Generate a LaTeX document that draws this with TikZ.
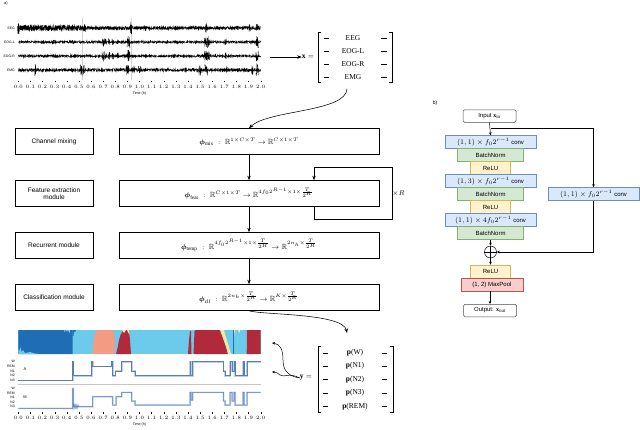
\documentclass[tikz,border=0pt]{standalone}
\usepackage{amsmath,amssymb,bm}
\usepackage{fontspec}
\setmainfont{Liberation Serif}
\setsansfont{Liberation Sans}
\usetikzlibrary{arrows.meta,calc}
\definecolor{cN3}{HTML}{1F6DB4}
\definecolor{cN2}{HTML}{6CCBEB}
\definecolor{cREM}{HTML}{F19C83}
\definecolor{cW}{HTML}{B02A3C}
\definecolor{cN1}{HTML}{F7E7A6}
\definecolor{convf}{HTML}{DAE8FC}\definecolor{convd}{HTML}{6C8EBF}
\definecolor{bnf}{HTML}{D5E8D4}\definecolor{bnd}{HTML}{82B366}
\definecolor{reluf}{HTML}{FFF2CC}\definecolor{relud}{HTML}{D6B656}
\definecolor{poolf}{HTML}{F8CECC}\definecolor{poold}{HTML}{B85450}
\definecolor{trc}{HTML}{5A7FB3}\definecolor{trl}{HTML}{BCD0EA}
\newcommand\mkburst[4]{%
 \pgfmathsetmacro\bxa{18.3+121.2*#2-#4}%
 \pgfmathsetmacro\bxb{18.3+121.2*#2+#4}%
 \draw[sig] plot[domain=\bxa:\bxb, samples=16] (\x,{#1+#3*rand});}
\begin{document}
\begin{tikzpicture}[x=1pt,y=-1pt,
 sig/.style={line width=0.3pt, black},
 arr/.style={-{Stealth[length=4.5pt,width=3.4pt]}, line width=0.55pt},
 sarr/.style={-{Stealth[length=3pt,width=2.6pt]}, line width=0.5pt},
 lbox/.style={draw, line width=0.6pt, minimum width=78pt, minimum height=26pt, inner sep=1pt, align=center, font=\sffamily\fontsize{6.5}{7.5}\selectfont},
 rbox/.style={draw, line width=0.6pt, minimum width=260pt, minimum height=26pt, font=\fontsize{7.5}{8.5}\selectfont},
 mtext/.style={font=\fontsize{7.5}{8}\selectfont, inner sep=0},
 tck/.style={font=\sffamily\fontsize{3.6}{4}\selectfont, inner sep=0},
 hl/.style={font=\sffamily\fontsize{3.4}{4}\selectfont, inner sep=0, anchor=east},
 blk/.style={minimum height=13pt, inner sep=0, line width=0.5pt, font=\fontsize{7}{8}\selectfont},
 conv/.style={blk, draw=convd, fill=convf, minimum width=91pt},
 bn/.style={blk, draw=bnd, fill=bnf, minimum width=66pt, font=\sffamily\fontsize{6}{7}\selectfont},
 relu/.style={blk, draw=relud, fill=reluf, minimum width=40pt, font=\sffamily\fontsize{6}{7}\selectfont},
 pool/.style={blk, draw=poold, fill=poolf, minimum width=62pt, font=\sffamily\fontsize{6}{7}\selectfont},
 io/.style={draw=black!70, rounded corners=1.5pt, line width=0.5pt, minimum width=53pt, minimum height=12.5pt, inner sep=0, font=\sffamily\fontsize{6}{7}\selectfont},
]
\useasboundingbox (0,0) rectangle (640,429);
% ---------- labels a) b)
\node[font=\sffamily\fontsize{4}{5}\selectfont, inner sep=0] (la) at (6,3) {a)};
\node[font=\sffamily\fontsize{5}{6}\selectfont, inner sep=0] (lb) at (435,103) {b)};
% ---------- EEG plot
\pgfmathsetseed{11}
\draw[gray!35, line width=0.3pt] (82.5,18) -- (82.5,80) (131.5,18) -- (131.5,80);
\draw[sig] plot[domain=18.3:85, samples=600] (\x,{28+3*rand});
\draw[sig] plot[domain=85:260.7, samples=1100] (\x,{28+1.6*rand});
\foreach \h/\a in {0.0/7,0.55/4,0.93/6,1.05/3,1.3/3,1.55/5,1.91/4,1.97/4}{\mkburst{28}{\h}{\a}{0.8}}
\foreach \yy in {42,56}{
 \draw[sig] plot[domain=18.3:260.7, samples=1300] (\x,{\yy+1.2*rand});
 \foreach \h/\a/\w in {0.70/5/1.3,0.72/4/1,0.75/4/0.8,0.78/3.5/0.8,0.82/3/0.8,0.91/6/1.5,1.55/6/2,1.57/5/1.2,1.71/3.5/0.8,1.97/6/1.5,0.3/2/3,0.45/2/3}{\mkburst{\yy}{\h}{\a}{\w}}
}
\draw[sig] plot[domain=18.3:260.7, samples=1300] (\x,{70+1.5*rand});
\foreach \h/\a/\w in {0.14/6/0.5,0.52/6/1,0.54/5/0.8,0.69/3/0.8,0.9/5/1.5,0.95/4/1.5,1.0/4/1,1.38/3/0.6,1.5/6/1.5,1.55/6/1.5,1.72/3/0.6,1.93/5/0.8,1.97/6/1.2}{\mkburst{70}{\h}{\a}{\w}}
\node[hl] (lEEG) at (15,28) {EEG};
\node[hl] (lEOGL) at (15,42) {EOG-L};
\node[hl] (lEOGR) at (15,56) {EOG-R};
\node[hl] (lEMG) at (15,70) {EMG};
\foreach \i in {0,...,20}{
 \pgfmathsetmacro\tx{18.3+12.12*\i}
 \pgfmathsetmacro\tl{\i/10}
 \draw[line width=0.25pt] (\tx,80.5) -- (\tx,82);
 \node[tck] at (\tx,86.5) {\pgfmathprintnumber[fixed,precision=1,fixed zerofill]{\tl}};
}
\node[tck] (tlab1) at (139.5,94) {Time (h)};
% ---------- x matrix
\coordinate (eegr) at (270,57);
\node[mtext] (xeq) at (308,57) {$\mathbf{x} =$};
\draw[arr] (eegr) -- (xeq.west);
\draw[line width=0.5pt] (321,32) -- (318,32) -- (318,82) -- (321,82);
\draw[line width=0.5pt] (389,32) -- (392,32) -- (392,82) -- (389,82);
\foreach \yy/\t in {38/EEG,51/EOG-L,64/EOG-R,77/EMG}{
 \node[mtext] at (353,\yy) {\t};
 \draw[line width=0.45pt] (323.5,\yy) -- (329,\yy) (381,\yy) -- (386.5,\yy);
}
\coordinate (xmb) at (347,89);
% ---------- left/right boxes
\node[lbox] (cm) at (54,141.5) {Channel mixing};
\node[lbox] (fe) at (54,193.5) {Feature extraction\\module};
\node[lbox] (rm) at (54,245.5) {Recurrent module};
\node[lbox] (cl) at (54,297.5) {Classification module};
\node[rbox] (mix) at (249,141.5) {$\boldsymbol{\phi}_{\mathrm{mix}}\;:\;\mathbb{R}^{1\times C\times T}\rightarrow\mathbb{R}^{C\times1\times T}$};
\node[rbox] (feat) at (249,193.5) {$\boldsymbol{\phi}_{\mathrm{feat}}\;:\;\mathbb{R}^{C\times1\times T}\rightarrow\mathbb{R}^{4f_0 2^{R-1}\times1\times\frac{T}{2^R}}$};
\node[rbox] (temp) at (249,245.5) {$\boldsymbol{\phi}_{\mathrm{temp}}\;:\;\mathbb{R}^{4f_0 2^{R-1}\times1\times\frac{T}{2^R}}\rightarrow\mathbb{R}^{2n_h\times\frac{T}{2^R}}$};
\node[rbox] (clf) at (249,297.5) {$\boldsymbol{\phi}_{\mathrm{clf}}\;:\;\mathbb{R}^{2n_h\times\frac{T}{2^R}}\rightarrow\mathbb{R}^{K\times\frac{T}{2^R}}$};
\draw[arr] (xmb) .. controls (346,112) and (268,110) .. (mix.north);
\draw[arr] (mix) -- (feat);
\draw[arr] (feat) -- (temp);
\draw[arr] (temp) -- (clf);
\draw[arr] ($(feat.south)+(65,0)$) -- ++(0,12) -- ++(78,0) -- ++(0,-52) -- ++(-78,0) -- ($(feat.north)+(65,0)$);
\node[font=\fontsize{7.5}{8}\selectfont, inner sep=0] (xR) at (398.5,194) {$\times R$};
% ---------- y matrix
\coordinate (ymt) at (347,333);
\draw[arr] (clf.south) .. controls (262,315) and (343,313) .. (ymt);
\node[mtext] (yeq) at (306,378) {$\mathbf{y} =$};
\draw[line width=0.5pt] (321,346) -- (318,346) -- (318,412) -- (321,412);
\draw[line width=0.5pt] (390,346) -- (393,346) -- (393,412) -- (390,412);
\foreach \yy/\t in {353/W,366/N1,379.5/N2,393/N3,406.5/REM}{
 \node[mtext] at (355,\yy) {\textbf{p}(\t)};
 \draw[line width=0.45pt] (323,\yy) -- (328,\yy) (381.5,\yy) -- (386.5,\yy);
}
\coordinate (ys) at (yeq.west);
\draw[sarr] (ys) .. controls (286,376) and (283,368) .. (283,360) .. controls (283,349) and (280,344) .. (272,343);
\draw[sarr] (ys) .. controls (288,372) and (285,378) .. (280,375) .. controls (278,373) and (276,372) .. (272,372);
% ---------- hypnogram colour bar
\fill[cN2] (18.3,330) rectangle (260.7,354);
\fill[cN3] (18.3,354) -- (18.3,330) -- (64,330) -- (64.5,333) -- (65.5,330) -- (67,332) -- (68,330) -- (69.5,334) -- (70.5,330) -- (72.7,330) -- (72.7,354) -- cycle;
\fill[cN2] (18.3,354) -- (18.3,349) -- (19.5,351) -- (20.5,347) -- (21.5,352) -- (23,350) -- (25,353) -- (30,352) -- (35,353.5) -- (40,354) -- cycle;
\fill[cN3] (72.7,330) -- (76,330) -- (75,332) -- (74,331) -- (73.5,336) -- (72.7,336) -- cycle;
\fill[cREM] (92.5,354) .. controls (93,342) and (94,334) .. (97,330) -- (113,330) .. controls (115,336) and (116,345) .. (114,354) -- cycle;
\fill[cW] (116,354) -- (118,346) .. controls (119,338) and (121,332) .. (124,330) -- (129,330) -- (130,340) -- (131,354) -- cycle;
\fill[cN1] (122,330) -- (126,330) -- (124,333) -- cycle;
\fill[cN1] (127,330) -- (129,330) -- (129.5,335) -- cycle;
\fill[cW] (188,354) -- (189,340) -- (190,331) -- (191,331) -- (191.5,354) -- cycle;
\fill[cW] (193.5,354) -- (194.5,331) -- (195.5,330) -- (220,330) .. controls (223,338) and (226,346) .. (228,354) -- cycle;
\fill[cN1] (220,330) -- (224,330) .. controls (226,338) and (229,346) .. (231,354) -- (228,354) .. controls (226,346) and (223,338) .. (220,330) -- cycle;
\fill[cN1] (233,330) -- (235,330) -- (234,336) -- cycle;
\fill[cN1] (238,330) -- (240,330) -- (239.5,333) -- cycle;
\draw[cN3, line width=0.4pt] (233,330) -- (233,354);
\fill[cW] (246.7,354) -- (247,330) -- (260.7,330) -- (260.7,354) -- cycle;
% ---------- hypnogram traces
\foreach \yy/\t in {361.7/W,366.3/REM,371/N1,375.7/N2,380.3/N3,388.5/W,393/REM,397.5/N1,402/N2,406.5/N3}{\node[hl] at (15,\yy) {\t};}
\node[font=\sffamily\fontsize{4}{5}\selectfont, inner sep=0] (lA) at (25,369) {A};
\node[font=\sffamily\fontsize{4}{5}\selectfont, inner sep=0] (lM) at (25,397) {M};
\draw[gray!45, line width=0.9pt] (18.3,384) -- (260.7,384);
\foreach \c/\w in {trl/1.6pt,trc/0.5pt}{
\draw[\c, line width=\w] (18.3,380.3) -- (72.7,380.3) -- (72.7,361.7) -- (73.3,361.7) -- (73.3,375.7) -- (91.7,375.7) -- (91.7,361.7) -- (92.7,361.7) -- (92.7,366.3) -- (111.5,366.3) -- (111.5,361.7) -- (112.7,361.7) -- (112.7,375.7) -- (115.5,375.7) -- (115.5,371) -- (121.7,371) -- (121.7,361.7) -- (131.7,361.7) -- (131.7,371) -- (135,371) -- (135,375.7) -- (190,375.7) -- (190,361.7) -- (190.7,361.7) -- (190.7,375.7) -- (192.7,375.7) -- (192.7,361.7) -- (223.5,361.7) -- (223.5,371) -- (225,371) -- (225,375.7) -- (230,375.7) -- (230,361.7) -- (232,361.7) -- (232,371) -- (234,371) -- (234,361.7) -- (235,361.7) -- (235,375.7) -- (243,375.7) -- (243,361.7) -- (244,361.7) -- (244,375.7) -- (247,375.7) -- (247,361.7) -- (260.7,361.7);
\draw[\c, line width=\w] (18.3,408.3) -- (72.7,408.3) -- (72.7,388.5) -- (73.3,388.5) -- (73.3,407) -- (74,404.5) -- (75,408) -- (76,405) -- (77,408) -- (78,405.5) -- (78.5,406.7) -- (92.7,406.7) -- (92.7,396.7) -- (112.7,396.7) -- (112.7,405) -- (116,405) -- (116,396.7) -- (121.7,396.7) -- (121.7,392.3) -- (131.7,392.3) -- (131.7,401) -- (135,401) -- (135,405) -- (190,405) -- (190,392.3) -- (191,392.3) -- (191,400) -- (192.7,400) -- (192.7,392.3) -- (223.5,392.3) -- (223.5,401) -- (225,401) -- (225,405) -- (230,405) -- (230,392.3) -- (232,392.3) -- (232,401) -- (234,401) -- (234,392.3) -- (235,392.3) -- (235,405) -- (243,405) -- (243,392.3) -- (244,392.3) -- (244,405) -- (247,405) -- (247,392.3) -- (260.7,392.3);
}
\foreach \i in {0,...,20}{
 \pgfmathsetmacro\tx{18.3+12.12*\i}
 \pgfmathsetmacro\tl{\i/10}
 \draw[line width=0.25pt] (\tx,412) -- (\tx,413.5);
 \node[tck] at (\tx,418) {\pgfmathprintnumber[fixed,precision=1,fixed zerofill]{\tl}};
}
\node[tck] (tlab2) at (139.5,425) {Time (h)};
% ---------- part b
\node[io] (inp) at (489.5,116) {Input $\mathbf{x}_{\mathrm{in}}$};
\node[conv] (c1) at (490.5,142) {$(1,1)\times f_0 2^{r-1}$ \textsf{\fontsize{6}{7}\selectfont conv}};
\node[bn] (b1) at (490.5,155) {BatchNorm};
\node[relu] (r1) at (490.5,168) {ReLU};
\node[conv] (c2) at (490.5,181) {$(1,3)\times f_0 2^{r-1}$ \textsf{\fontsize{6}{7}\selectfont conv}};
\node[bn] (b2) at (490.5,194) {BatchNorm};
\node[relu] (r2) at (490.5,207) {ReLU};
\node[conv] (c3) at (490.5,220) {$(1,1)\times 4 f_0 2^{r-1}$ \textsf{\fontsize{6}{7}\selectfont conv}};
\node[bn] (b3) at (490.5,233) {BatchNorm};
\node[circle, draw, line width=0.5pt, minimum size=12pt, inner sep=0] (plus) at (490.5,252) {};
\draw[line width=0.5pt] (plus.north) -- (plus.south) (plus.west) -- (plus.east);
\node[relu] (r3) at (490.5,271.5) {ReLU};
\node[pool] (mp) at (492,284.5) {(1, 2) MaxPool};
\node[io] (out) at (490,310.5) {Output: $\mathbf{x}_{\mathrm{out}}$};
\node[conv] (sc) at (593.5,194) {$(1,1)\times f_0 2^{r-1}$ \textsf{\fontsize{6}{7}\selectfont conv}};
\coordinate (jn) at (490.5,128);
\draw[sarr] (inp.south) -- (c1.north);
\draw[sarr] (jn) -| (sc.north);
\draw[sarr] (sc.south) |- (plus.east);
\draw[sarr] (b3.south) -- (plus.north);
\draw[sarr] (plus.south) -- (r3.north);
\draw[sarr] (mp.south -| out.north) -- (out.north);
\end{tikzpicture}
\end{document}
